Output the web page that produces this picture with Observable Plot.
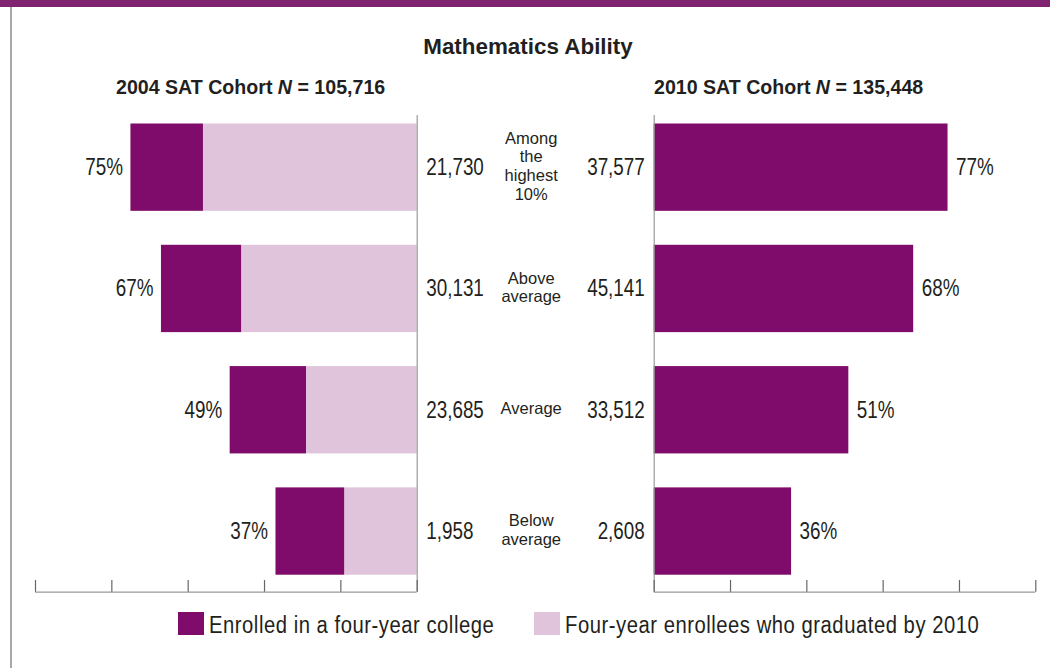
<!DOCTYPE html>
<html>
<head>
<meta charset="utf-8">
<script src="https://cdn.jsdelivr.net/npm/d3@7"></script>
<script src="https://cdn.jsdelivr.net/npm/@observablehq/plot@0.6"></script>
<style>
  html, body { margin: 0; padding: 0; background: #fff; }
  #chart { position: relative; width: 1050px; height: 668px; overflow: hidden; background: #fff;
           font-family: "Liberation Sans", Arial, sans-serif; color: #231f20; }
  #band { position: absolute; left: 0; top: 0; width: 1050px; height: 7px; background: #802370; }
  #border { position: absolute; left: 10px; top: 7px; width: 1.5px; height: 661px; background: #a8a8a8; }
  .hd { position: absolute; font-weight: bold; line-height: 1; white-space: nowrap; }
  #title { left: 3px; width: 1050px; top: 36px; text-align: center; font-size: 22.4px; }
  .sub { top: 78.4px; font-size: 19.6px; }
  #sub04 { left: 116px; }
  #sub10 { left: 654px; }
  .item { position: absolute; top: 612px; }
  .item:nth-child(1) { left: 178px; }
  .item:nth-child(2) { left: 534px; }
  .sw { position: absolute; left: 0; top: 0; width: 26px; height: 23px; }
  .lt { position: absolute; left: 31px; top: 1.5px; font-size: 23px; letter-spacing: 0.6px; line-height: 1;
        white-space: nowrap; color: #231f20; transform: scaleX(0.88); transform-origin: 0 0; }
  svg.panel { position: absolute; top: 110px; }
</style>
</head>
<body>
<div id="chart">
  <div id="band"></div>
  <div id="border"></div>
  <div id="title" class="hd">Mathematics Ability</div>
  <div id="sub04" class="hd sub">2004 SAT Cohort <i>N</i> = 105,716</div>
  <div id="sub10" class="hd sub">2010 SAT Cohort <i>N</i> = 135,448</div>
  <div id="legend"></div>
</div>
<script>
// ---- data ----
const categories = ["Among\nthe\nhighest\n10%", "Above\naverage", "Average", "Below\naverage"];
const enrolled2004 = [75, 67, 49, 37];
const graduated2004 = [56, 46, 29, 19];
const cohort2004 = [21730, 30131, 23685, 1958];
const enrolled2010 = [77, 68, 51, 36];
const cohort2010 = [37577, 45141, 33512, 2608];
const xTicks = [0, 20, 40, 60, 80, 100];
const legendLabels = ["Enrolled in a four-year college", "Four-year enrollees who graduated by 2010"];

// ---- style ----
const DARK = "#7f0c6a", LIGHT = "#e0c4dc", INK = "#231f20", AXIS = "#9a9a9a";
const legendColors = [DARK, LIGHT];
const FONT = '"Liberation Sans",Arial,sans-serif';
const NARROW_SCALE = 0.82;
const fmt = d3.format(",");

const rows = categories.map((c, i) => ({
  i, category: c,
  e04: enrolled2004[i], g04: graduated2004[i], n04: cohort2004[i],
  e10: enrolled2010[i], n10: cohort2010[i]
}));

const half = 0.36;
const yTop = -0.43, yBottom = rows.length - 0.5;
const tickLen = 0.096;

// condense the labels tagged "narrow" horizontally around their anchor
function condense(svg, s) {
  d3.select(svg).selectAll('g[aria-description="narrow"] text').each(function() {
    const t = this.getAttribute("transform") || "";
    this.setAttribute("transform", `${t} scale(${s},1)`);
  });
}

function panel({reverse, marginLeft, marginRight, marks}) {
  const svg = Plot.plot({
    width: 525, height: 490,
    marginTop: 5, marginBottom: 8.3, marginLeft, marginRight,
    x: {domain: d3.extent(xTicks), reverse, axis: null},
    y: {domain: [yTop, yBottom], reverse: true, axis: null},
    style: {overflow: "visible", background: "transparent", fontFamily: FONT, color: INK},
    marks
  });
  svg.classList.add("panel");
  condense(svg, NARROW_SCALE);
  return svg;
}

const axisMarks = [
  Plot.ruleY([yBottom], {stroke: AXIS, strokeWidth: 1.2}),
  Plot.ruleX(xTicks, {x: d => d, y1: yBottom - tickLen, y2: yBottom, stroke: "#666", strokeWidth: 1.2})
];

const left = panel({
  reverse: true, marginLeft: 35, marginRight: 108.3,
  marks: [
    Plot.rectX(rows, {x1: 0, x2: "g04", y1: d => d.i - half, y2: d => d.i + half, fill: LIGHT}),
    Plot.rectX(rows, {x1: "g04", x2: "e04", y1: d => d.i - half, y2: d => d.i + half, fill: DARK}),
    Plot.ruleX([0], {stroke: AXIS, strokeWidth: 1.2}),
    ...axisMarks,
    Plot.text(rows, {x: "e04", y: "i", text: d => d.e04 + "%", dx: -8, textAnchor: "end", fontSize: 23,
                     fill: INK, ariaDescription: "narrow"}),
    Plot.text(rows, {x: 0, y: "i", text: d => fmt(d.n04), dx: 9, textAnchor: "start", fontSize: 23,
                     fill: INK, ariaDescription: "narrow"})
  ]
});
left.style.left = "0px";

const right = panel({
  reverse: false, marginLeft: 128.7, marginRight: 14.7,
  marks: [
    Plot.rectX(rows, {x1: 0, x2: "e10", y1: d => d.i - half, y2: d => d.i + half, fill: DARK}),
    Plot.ruleX([0], {stroke: AXIS, strokeWidth: 1.2}),
    ...axisMarks,
    Plot.text(rows, {x: "e10", y: "i", text: d => d.e10 + "%", dx: 8, textAnchor: "start", fontSize: 23,
                     fill: INK, ariaDescription: "narrow"}),
    Plot.text(rows, {x: 0, y: "i", text: d => fmt(d.n10), dx: -9.4, textAnchor: "end", fontSize: 23,
                     fill: INK, ariaDescription: "narrow"}),
    Plot.text(rows, {x: 0, y: "i", text: "category", dx: -123, dy: -2, textAnchor: "middle",
                     fontSize: 16.5, lineHeight: 1.13, fill: INK})
  ]
});
right.style.left = "525px";

const chart = document.getElementById("chart");
chart.appendChild(left);
chart.appendChild(right);

// legend
const legend = d3.select("#legend");
legendLabels.forEach((label, k) => {
  const it = legend.append("div").attr("class", "item");
  it.append("div").attr("class", "sw").style("background", legendColors[k]);
  it.append("div").attr("class", "lt").text(label);
});
</script>
</body>
</html>
